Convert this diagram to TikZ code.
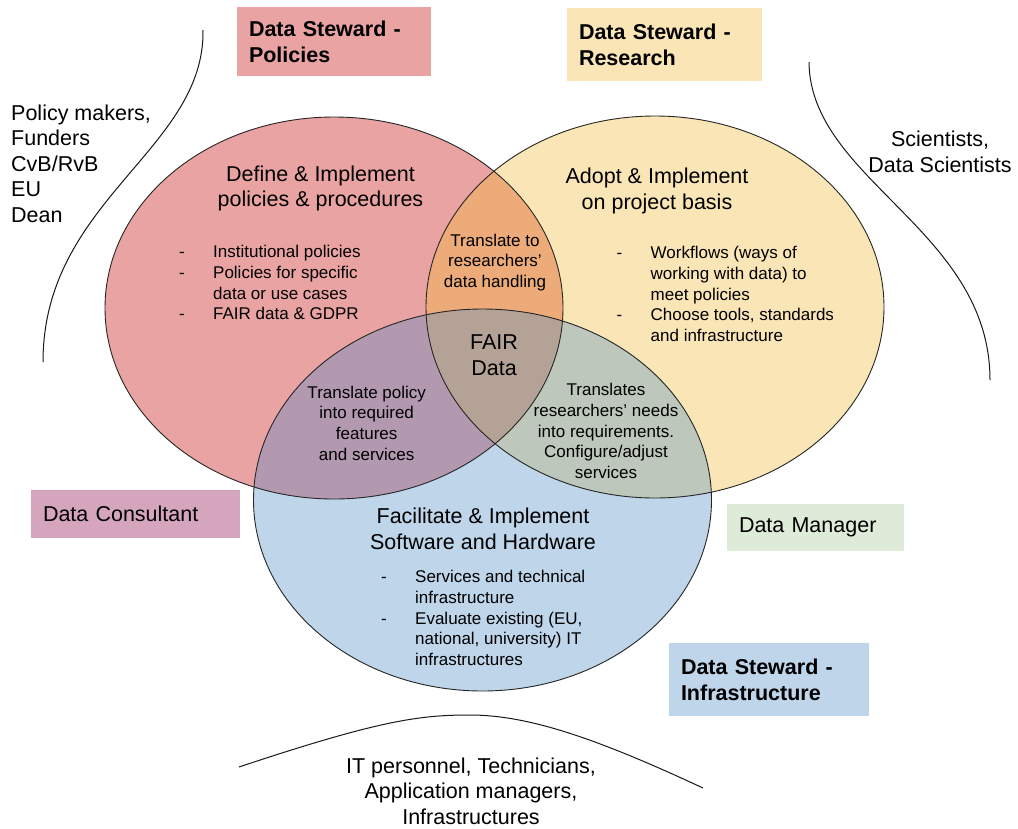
\documentclass[tikz,border=0pt]{standalone}
\usepackage{fontspec}
\setmainfont{Liberation Sans}
\definecolor{vennred}{RGB}{234,163,163}
\definecolor{vennyellow}{RGB}{249,229,181}
\definecolor{vennblue}{RGB}{190,213,234}
\definecolor{vennorange}{RGB}{236,171,120}
\definecolor{vennpurple}{RGB}{179,153,176}
\definecolor{vennbrown}{RGB}{181,162,150}
\definecolor{venngreen}{RGB}{189,199,187}
\definecolor{consultpink}{RGB}{213,165,189}
\definecolor{managergreen}{RGB}{223,235,217}
\newcommand{\itm}[1]{\makebox[34pt][l]{-}#1}
\newcommand{\cnt}[1]{\hspace*{34pt}#1}
\tikzset{
  big/.style={inner sep=0pt, align=center, font=\fontsize{21.5}{25.5}\selectfont},
  small/.style={inner sep=0pt, align=center, font=\fontsize{17}{20.8}\selectfont},
  bullets/.style={inner sep=0pt, align=left, anchor=north west, font=\fontsize{17}{20.8}\selectfont},
  role/.style={inner xsep=12pt, inner ysep=0pt, align=left, font=\fontsize{21.5}{26}\selectfont},
  outline/.style={draw=black!85, line width=0.9pt},
  audience/.style={draw=black!90, line width=1pt},
}
\begin{document}
\begin{tikzpicture}[x=1pt,y=-1pt]
\useasboundingbox[fill=white] (0,0) rectangle (1018,828);
\coordinate (redc) at (334,308);
\coordinate (yelc) at (655,307);
\coordinate (bluc) at (482.5,500);
% the three sets
\fill[vennred] (redc) ellipse [x radius=229pt, y radius=191pt];
\fill[vennyellow] (yelc) ellipse [x radius=229pt, y radius=191pt];
\fill[vennblue] (bluc) ellipse [x radius=229pt, y radius=191pt];
\begin{scope}
  \clip (yelc) ellipse [x radius=229pt, y radius=191pt];
  \fill[venngreen] (bluc) ellipse [x radius=229pt, y radius=191pt];
\end{scope}
\begin{scope}
  \clip (redc) ellipse [x radius=229pt, y radius=191pt];
  \fill[vennorange] (yelc) ellipse [x radius=229pt, y radius=191pt];
  \fill[vennpurple] (bluc) ellipse [x radius=229pt, y radius=191pt];
  \clip (yelc) ellipse [x radius=229pt, y radius=191pt];
  \fill[vennbrown] (bluc) ellipse [x radius=229pt, y radius=191pt];
\end{scope}
\draw[outline] (redc) ellipse [x radius=229pt, y radius=191pt];
\draw[outline] (yelc) ellipse [x radius=229pt, y radius=191pt];
\draw[outline] (bluc) ellipse [x radius=229pt, y radius=191pt];
% audiences
\draw[audience] (203,30) .. controls (205,150) and (43,200) .. (43,362);
\draw[audience] (809,62) .. controls (810,180) and (990,230) .. (990,380);
\draw[audience] (239,767) .. controls (380,720) and (420,715) .. (470,715)
  .. controls (530,715) and (600,740) .. (703,788);
\node[big, anchor=north west, align=left] (funders) at (11,104.6) {Policy makers,\\Funders\\CvB/RvB\\EU\\Dean};
\node[big, anchor=north] (scientists) at (940,131) {Scientists,\\Data Scientists};
\node[big, anchor=north] (itstaff) at (471,757.6) {IT personnel, Technicians,\\Application managers,\\Infrastructures};
% set contents
\node[big, anchor=north] (define) at (320.5,165.7) {Define \& Implement\\policies \& procedures};
\node[bullets] (redlist) at (179,245) {\itm{Institutional policies}\\\itm{Policies for specific}\\\cnt{data or use cases}\\\itm{FAIR data \& GDPR}};
\node[big, anchor=north] (adopt) at (657,168) {Adopt \& Implement\\on project basis};
\node[bullets] (yellist) at (616.5,246) {\itm{Workflows (ways of}\\\cnt{working with data) to}\\\cnt{meet policies}\\\itm{Choose tools, standards}\\\cnt{and infrastructure}};
\node[big, anchor=north] (facilitate) at (483,508) {Facilitate \& Implement\\Software and Hardware};
\node[bullets] (blulist) at (381,570) {\itm{Services and technical}\\\cnt{infrastructure}\\\itm{Evaluate existing (EU,}\\\cnt{national, university) IT}\\\cnt{infrastructures}};
\node[small, anchor=north] (transto) at (495,233.5) {Translate to\\researchers'\\data handling};
\node[big, anchor=north] (fair) at (494,335) {FAIR\\Data};
\node[small, anchor=north] (transpol) at (366.7,385.5) {Translate policy\\into required\\features\\and services};
\node[small, anchor=north] (transres) at (606,383) {Translates\\researchers' needs\\into requirements.\\Configure/adjust\\services};
% roles
\node[role, fill=vennred, font=\bfseries\fontsize{21.5}{26}\selectfont, text width=170pt, minimum height=69pt] (dspol) at (334,41.5) {Data Steward -\\Policies};
\node[role, fill=vennyellow, font=\bfseries\fontsize{21.5}{26}\selectfont, text width=171pt, minimum height=73pt] (dsres) at (664.5,44.5) {Data Steward -\\Research};
\node[role, fill=consultpink, text width=185pt, minimum height=48pt] (consult) at (135.5,514) {Data Consultant};
\node[role, fill=managergreen, text width=153pt, minimum height=47pt] (manager) at (815.5,527.5) {Data Manager};
\node[role, fill=vennblue, font=\bfseries\fontsize{21.5}{26}\selectfont, text width=176pt, minimum height=73pt] (dsinf) at (769,679.5) {Data Steward -\\Infrastructure};
\end{tikzpicture}
\end{document}
